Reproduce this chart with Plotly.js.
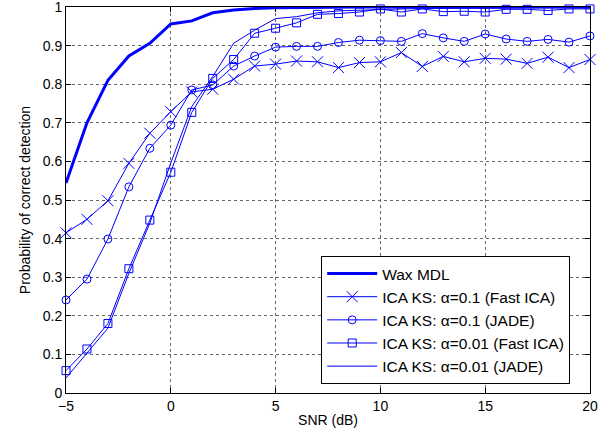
<!DOCTYPE html>
<html>
<head>
<meta charset="utf-8">
<script src="https://cdn.plot.ly/plotly-3.0.1.min.js"></script>
<style>html,body{margin:0;padding:0;background:#fff}#chart{width:613px;height:436px}</style>
</head>
<body>
<div id="chart"></div>
<script>
var snr = [-5,-4,-3,-2,-1,0,1,2,3,4,5,6,7,8,9,10,11,12,13,14,15,16,17,18,19,20];
var waxMDL = [0.544,0.70,0.81,0.873,0.906,0.956,0.964,0.985,0.992,0.996,0.998,0.999,0.999,1,1,1,1,1,1,1,1,1,1,1,1,1];
var fastICA01 = [0.415,0.450,0.498,0.595,0.673,0.729,0.780,0.787,0.813,0.847,0.852,0.860,0.858,0.843,0.856,0.858,0.882,0.846,0.872,0.858,0.867,0.865,0.854,0.870,0.843,0.864];
var jade01 = [0.241,0.295,0.399,0.534,0.634,0.694,0.785,0.798,0.847,0.873,0.896,0.898,0.898,0.908,0.914,0.913,0.911,0.931,0.920,0.911,0.930,0.917,0.911,0.916,0.909,0.925];
var fastICA001 = [0.058,0.114,0.180,0.322,0.448,0.572,0.727,0.815,0.864,0.932,0.945,0.959,0.981,0.983,0.987,0.995,0.987,0.995,0.988,0.989,0.987,0.994,0.994,0.991,0.995,0.995];
var jade001 = [0.039,0.104,0.168,0.310,0.440,0.596,0.742,0.820,0.906,0.940,0.970,0.975,0.985,0.990,0.992,0.994,0.995,0.996,0.996,0.997,0.997,0.997,0.998,0.998,0.998,0.998];
var names = ['Wax MDL','ICA KS: \u03b1=0.1 (Fast ICA)','ICA KS: \u03b1=0.1 (JADE)','ICA KS: \u03b1=0.01 (Fast ICA)','ICA KS: \u03b1=0.01 (JADE)'];
var xTicks = [-5,0,5,10,15,20];
var yTicks = [0,0.1,0.2,0.3,0.4,0.5,0.6,0.7,0.8,0.9,1];
var yTickText = ['0','0.1','0.2','0.3','0.4','0.5','0.6','0.7','0.8','0.9','1'];

var blue = '#0000ff';
var traces = [
  {x: snr, y: waxMDL, name: names[0], mode: 'lines', line: {color: blue, width: 3}},
  {x: snr, y: fastICA01, name: names[1], mode: 'lines+markers', line: {color: blue, width: 1},
   marker: {symbol: 'x-thin-open', size: 11, color: blue, line: {color: blue, width: 1}}},
  {x: snr, y: jade01, name: names[2], mode: 'lines+markers', line: {color: blue, width: 1},
   marker: {symbol: 'circle-open', size: 8, color: blue, line: {color: blue, width: 1}}},
  {x: snr, y: fastICA001, name: names[3], mode: 'lines+markers', line: {color: blue, width: 1},
   marker: {symbol: 'square-open', size: 8, color: blue, line: {color: blue, width: 1}}},
  {x: snr, y: jade001, name: names[4], mode: 'lines', line: {color: blue, width: 1}}
];
traces.forEach(function(t){ t.type = 'scatter'; t.cliponaxis = false; });

var font = {family: 'Liberation Sans, Arial, sans-serif', size: 14, color: '#000'};
var axisCommon = {
  showline: true, linecolor: '#000', linewidth: 1, mirror: 'ticks',
  ticks: 'inside', ticklen: 5, tickcolor: '#000',
  showgrid: true, gridcolor: '#666', griddash: 'dot', gridwidth: 1,
  zeroline: false, tickfont: font, ticklabeloverflow: 'allow'
};
var layout = {
  width: 613, height: 436,
  margin: {l: 66, r: 23, t: 7, b: 43},
  paper_bgcolor: '#fff', plot_bgcolor: '#fff',
  font: font,
  showlegend: true,
  xaxis: Object.assign({}, axisCommon, {range: [-5, 20], tickmode: 'array', tickvals: xTicks,
    title: {text: 'SNR (dB)', font: font, standoff: 2}}),
  yaxis: Object.assign({}, axisCommon, {range: [0, 1], tickmode: 'array', tickvals: yTicks, ticktext: yTickText,
    title: {text: 'Probability of correct detection', font: font, standoff: 8}}),
  legend: {x: 0.487, y: 0.355, xanchor: 'left', yanchor: 'top',
    bgcolor: '#fff', bordercolor: '#000', borderwidth: 1,
    font: {family: 'Liberation Sans, Arial, sans-serif', size: 15.5, color: '#000'},
    tracegroupgap: 0, itemwidth: 50}
};
Plotly.newPlot('chart', traces, layout, {displayModeBar: false, staticPlot: true});
</script>
</body>
</html>
